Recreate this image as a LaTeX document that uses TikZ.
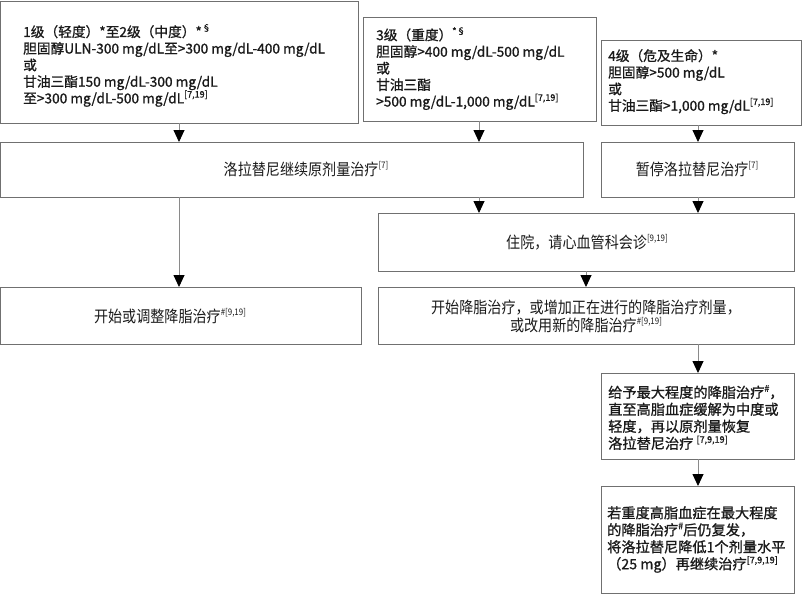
\documentclass[tikz,border=0pt]{standalone}
\usepackage{fontspec}
\setmainfont{Noto Sans CJK SC}
\newfontfamily\condfont[FakeStretch=0.88]{Noto Sans CJK SC}
\newfontfamily\medfont[FakeBold=1.0]{Noto Sans CJK SC}
\usetikzlibrary{arrows.meta}
\definecolor{boxgray}{HTML}{707070}
\definecolor{linegray}{HTML}{8A8A8A}
\definecolor{txt}{HTML}{1A1A1A}
\newcommand\mysup[1]{\raisebox{0.42em}{\fontsize{9}{9}\selectfont #1}}
\begin{document}
\begin{tikzpicture}[x=1pt,y=-1pt,
  box/.style={draw=boxgray, line width=0.9pt, inner sep=0pt, outer sep=0pt, anchor=north west, fill=white},
  ltext/.style={anchor=north west, inner sep=0pt, align=left, text=txt, font=\medfont\fontsize{13.7}{16.6}\selectfont},
  btext/.style={anchor=north west, inner sep=0pt, align=left, text=txt, font=\medfont\fontsize{14.2}{17}\selectfont},
  ctext/.style={inner sep=0pt, align=center, text=txt, font=\condfont\fontsize{16}{18}\selectfont},
  conn/.style={draw=linegray, line width=0.9pt, -{Triangle[width=11pt,length=12pt,color=black]}}]
\useasboundingbox[fill=white] (0,0) rectangle (804,594);
% boxes
\node[box, minimum width=357.5pt, minimum height=122pt] (g12) at (0.5,1) {};
\node[box, minimum width=233pt, minimum height=104pt] (g3) at (363,17) {};
\node[box, minimum width=200pt, minimum height=85pt] (g4) at (601,40) {};
\node[box, minimum width=582.5pt, minimum height=55pt] (cont) at (0.5,142) {};
\node[box, minimum width=193pt, minimum height=55pt] (hold) at (601,142) {};
\node[box, minimum width=416pt, minimum height=58pt] (hosp) at (378,213) {};
\node[box, minimum width=360.5pt, minimum height=57pt] (lipl) at (0.5,287) {};
\node[box, minimum width=416pt, minimum height=57pt] (lipr) at (378,287) {};
\node[box, minimum width=193pt, minimum height=86pt] (maxl) at (601,373) {};
\node[box, minimum width=193pt, minimum height=107pt] (recur) at (601,486) {};
% texts
\node[ltext] (t12) at (23,24) {1级（轻度）*至2级（中度）*\mysup{§}\\
胆固醇ULN-300 mg/dL至>300 mg/dL-400 mg/dL\\
或\\
甘油三酯150 mg/dL-300 mg/dL\\
至>300 mg/dL-500 mg/dL\mysup{[7,19]}};
\node[ltext] (t3) at (376,27) {3级（重度）\mysup{*§}\\
胆固醇>400 mg/dL-500 mg/dL\\
或\\
甘油三酯\\
>500 mg/dL-1,000 mg/dL\mysup{[7,19]}};
\node[ltext] (t4) at (608,49) {4级（危及生命）*\\
胆固醇>500 mg/dL\\
或\\
甘油三酯>1,000 mg/dL\mysup{[7,19]}};
\node[ctext] (tcont) at (306,169) {洛拉替尼继续原剂量治疗\mysup{[7]}};
\node[ctext] (thold) at (697,169) {暂停洛拉替尼治疗\mysup{[7]}};
\node[ctext] (thosp) at (587,242) {住院，请心血管科会诊\mysup{[9,19]}};
\node[ctext] (tlipl) at (170,316) {开始或调整降脂治疗\mysup{\#[9,19]}};
\node[ctext] (tlipr) at (586,316) {开始降脂治疗，或增加正在进行的降脂治疗剂量，\\或改用新的降脂治疗\mysup{\#[9,19]}};
\node[btext] (tmax) at (608,385) {给予最大程度的降脂治疗\mysup{\#}，\\
直至高脂血症缓解为中度或\\
轻度，再以原剂量恢复\\
洛拉替尼治疗 \mysup{[7,9,19]}};
\node[btext] (trec) at (607,506) {若重度高脂血症在最大程度\\
的降脂治疗\mysup{\#}后仍复发，\\
将洛拉替尼降低1个剂量水平\\
（25 mg）再继续治疗\mysup{[7,9,19]}};
% connector x positions
\coordinate (xa) at (179,0);
\coordinate (xb) at (479,0);
\coordinate (xc) at (698,0);
\coordinate (xd) at (586,0);
% connectors
\draw[conn] (g12.south -| xa) -- (cont.north -| xa);
\draw[conn] (g3.south -| xb) -- (cont.north -| xb);
\draw[conn] (g4.south -| xc) -- (hold.north -| xc);
\draw[conn] (cont.south -| xa) -- (lipl.north -| xa);
\draw[conn] (cont.south -| xb) -- (hosp.north -| xb);
\draw[conn] (hold.south -| xc) -- (hosp.north -| xc);
\draw[conn] (hosp.south -| xd) -- (lipr.north -| xd);
\draw[conn] (lipr.south -| xc) -- (maxl.north -| xc);
\draw[conn] (maxl.south -| xc) -- (recur.north -| xc);
\end{tikzpicture}
\end{document}
